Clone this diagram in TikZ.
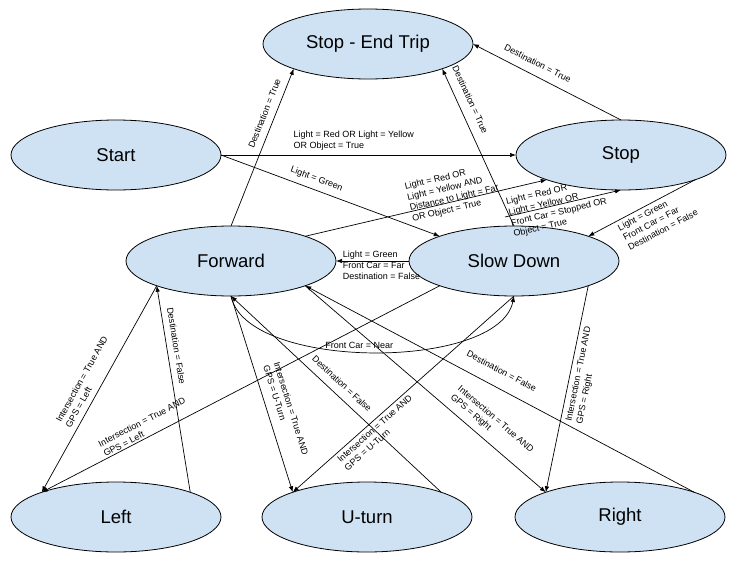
\documentclass[tikz,border=0pt]{standalone}
\usepackage{fontspec}
\setmainfont{Liberation Sans}
\usetikzlibrary{shapes,arrows.meta,automata,positioning}
\definecolor{stateblue}{RGB}{207,226,243}

\begin{document}
\begin{tikzpicture}[->, >={Latex[length=6pt,width=4.5pt]}, x=1pt, y=-1pt, line width=0.7pt, font=\fontsize{9}{11}\selectfont]
      \tikzstyle{every state}=[ellipse, draw, fill=stateblue, minimum width=210pt, minimum height=70pt, inner sep=0pt, outer sep=0pt, line width=0.8pt, font=\fontsize{18.5}{22}\selectfont]
      \tikzstyle{lbl}=[sloped, align=left, inner sep=1.5pt]
      \useasboundingbox (0,0) rectangle (755,581);
      \node[state] (endtrip) at (368,44) {Stop - End Trip};
      \node[state] (start) at (116,155) {Start};
      \node[state] (stop) at (621,155) {Stop};
      \node[state] (forward) at (231,261) {Forward};
      \node[state] (slow) at (514,261) {Slow Down};
      \node[state] (left) at (116,517) {Left};
      \node[state] (uturn) at (367,517) {U-turn};
      \node[state] (right) at (620,517) {Right};
      \coordinate (slowtop) at ([shift={(-9,-9)}]slow.north);
      \path
      (start.east) edge node[lbl, above, inner sep=4.5pt, pos=0.45] {Light = Red OR Light = Yellow\\OR Object = True} (stop.west)
      (start.east) edge node[lbl, above, inner sep=6pt, pos=0.42] {Light = Green} (slow.north west)
      (forward.north) edge node[lbl, above, inner sep=7pt, pos=0.69] {Destination = True} (endtrip.south west)
      (slow.north) edge node[lbl, above, inner sep=9pt, pos=0.77] {Destination = True} (endtrip.south east)
      (stop.north) edge node[lbl, above, inner sep=8.5pt, pos=0.6] {Destination = True} (endtrip.east)
      (forward.north east) edge node[lbl, above=-14pt, pos=0.62] {Light = Red OR\\Light = Yellow AND\\Distance to Light = Far\\OR Object = True} (stop.south west)
      (slowtop) edge node[lbl, below=-20pt, pos=0.45] {Light = Red OR\\Light = Yellow OR\\Front Car = Stopped OR\\Object = True} (stop.south)
      (stop.south east) edge node[lbl, below, inner sep=3.5pt, pos=0.43] {Light = Green\\Front Car = Far\\Destination = False} (slow.north east)
      (slow.west) edge node[anchor=west, align=left, inner sep=1.5pt, pos=0.93, yshift=-4pt] {Light = Green\\Front Car = Far\\Destination = False} (forward.east)
      (forward.south west) edge node[lbl, above, inner sep=5.5pt, pos=0.5] {Intersection = True AND\\GPS = Left} (left.north west)
      (left.north east) edge node[lbl, above, inner sep=6pt, pos=0.7] {Destination = False} (forward.south west)
      (slow.south west) edge node[lbl, above, pos=0.73] {Intersection = True AND\\GPS = Left} (left.north west)
      (forward.south) edge node[lbl, above, inner sep=9pt, pos=0.61] {Intersection = True AND\\GPS = U-Turn} (uturn.north west)
      (uturn.north east) edge node[lbl, above, inner sep=8pt, pos=0.51] {Destination = False} (forward.south)
      (slow.south) edge node[lbl, below, inner sep=3pt, pos=0.65] {Intersection = True AND\\GPS = U-Turn} (uturn.north west)
      (forward.south east) edge node[lbl, above, inner sep=7pt, pos=0.73] {Intersection = True AND\\GPS = Right} (right.north west)
      (right.north east) edge node[lbl, above, inner sep=13pt, pos=0.515] {Destination = False} (forward.south east)
      (slow.south east) edge node[lbl, below, inner sep=4pt, pos=0.42] {Intersection = True AND\\GPS = Right} (right.north west);
      \draw (forward.south) .. controls +(15,75) and +(-15,75) .. node[above, inner sep=3pt, pos=0.467] {Front Car = Near} (slow.south);
    \end{tikzpicture}
\end{document}
